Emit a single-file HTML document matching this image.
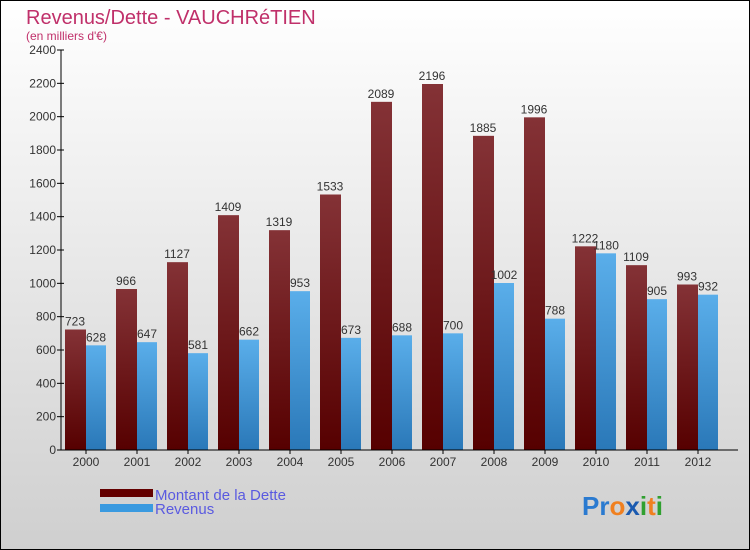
<!DOCTYPE html>
<html><head><meta charset="utf-8"><style>
body{margin:0}
#c{width:750px;height:550px;position:relative;box-sizing:border-box;border:1px solid #000;background:linear-gradient(#ffffff,#cfcfcf);font-family:"Liberation Sans",sans-serif;overflow:hidden}
</style></head><body>
<div id="c">
<svg id="s" width="750" height="550" style="position:absolute;left:-1px;top:-1px">
<defs>
<linearGradient id="gd" x1="0" y1="0" x2="0" y2="1"><stop offset="0" stop-color="#843236"/><stop offset="1" stop-color="#560000"/></linearGradient>
<linearGradient id="gr" x1="0" y1="0" x2="0" y2="1"><stop offset="0" stop-color="#5aaeea"/><stop offset="1" stop-color="#2a78b8"/></linearGradient>
</defs>
<text x="26" y="24" font-size="20" fill="#c0306a">Revenus/Dette - VAUCHRéTIEN</text>
<text x="26" y="40" font-size="12" fill="#c0306a">(en milliers d'€)</text>
<g id="plot"></g>
<rect x="100" y="489" width="53" height="8" fill="#640000"/>
<text x="155" y="500" font-size="15" fill="#5a5ae0">Montant de la Dette</text>
<rect x="100" y="504" width="53" height="8" fill="#3a9ae0"/>
<text x="155" y="514" font-size="15" fill="#5a5ae0">Revenus</text>
<text x="582" y="515" font-size="26" font-weight="bold"><tspan fill="#2a7ad0">Pr</tspan><tspan fill="#f08020">o</tspan><tspan fill="#1a5ab0">x</tspan><tspan fill="#30a030">i</tspan><tspan fill="#f08020">t</tspan><tspan fill="#30a030">i</tspan></text>
</svg>
</div>
<script>
const years=["2000","2001","2002","2003","2004","2005","2006","2007","2008","2009","2010","2011","2012"];
const dette=[723,966,1127,1409,1319,1533,2089,2196,1885,1996,1222,1109,993];
const revenus=[628,647,581,662,953,673,688,700,1002,788,1180,905,932];
const ticks=[0,200,400,600,800,1000,1200,1400,1600,1800,2000,2200,2400];
const NS="http://www.w3.org/2000/svg";
const g=document.getElementById("plot");
const x0=61,band=51,y0=450,ymax=2400,h=400;
const y=v=>y0-v/ymax*h;
function mk(t,a){const e=document.createElementNS(NS,t);for(const k in a)e.setAttribute(k,a[k]);g.appendChild(e);return e;}
ticks.forEach(t=>{
 const l=mk("line",{x1:x0-4,x2:x0+3,y1:y(t),y2:y(t),stroke:"#000"});
 
 
 const tx=mk("text",{x:x0-5,y:y(t)+4,"font-size":12,fill:"#333","text-anchor":"end"});
 tx.textContent=t;
 
 
});
years.forEach((yr,i)=>{
 const bx=x0+4+i*band;
 const b1=mk("rect",{x:bx,y:y(dette[i]),width:21,height:y0-y(dette[i]),fill:"url(#gd)"});
 
 
 const b2=mk("rect",{x:bx+21,y:y(revenus[i]),width:20,height:y0-y(revenus[i]),fill:"url(#gr)"});
 
 
 const t1=mk("text",{x:bx+10,y:y(dette[i])-4,"font-size":12,fill:"#333","text-anchor":"middle"});
 t1.textContent=dette[i];
 
 
 const t2=mk("text",{x:bx+31,y:y(revenus[i])-4,"font-size":12,fill:"#333","text-anchor":"middle"});
 t2.textContent=revenus[i];
 
 
 const tk=mk("line",{x1:bx+21,x2:bx+21,y1:y0,y2:y0+4,stroke:"#000"});
 
 
 const xl=mk("text",{x:bx+21,y:y0+16,"font-size":12,fill:"#333","text-anchor":"middle"});
 xl.textContent=yr;
 
 
});
const ax=mk("line",{x1:x0,x2:x0,y1:50,y2:y0,stroke:"#000"});


const bx=mk("line",{x1:x0,x2:738,y1:y0,y2:y0,stroke:"#000"});


</script>
</body></html>
